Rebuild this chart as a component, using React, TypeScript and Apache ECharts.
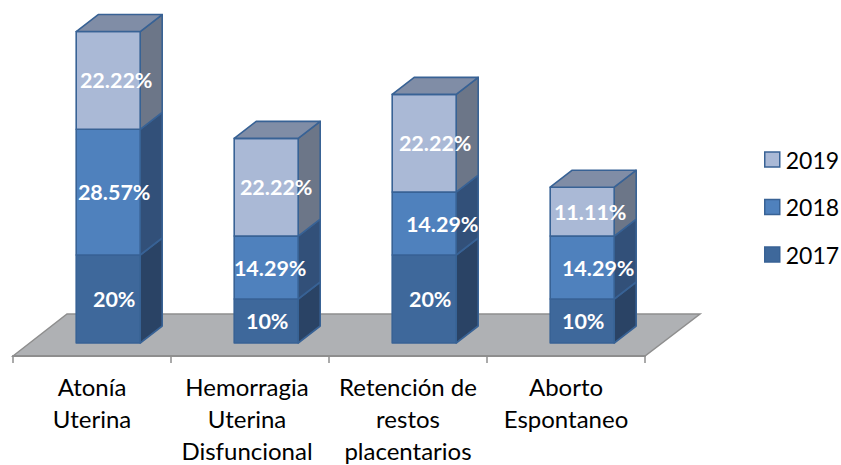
import React, { useEffect, useRef } from "react";
import * as echarts from "echarts";

const categories = ["Atonía\nUterina", "Hemorragia\nUterina\nDisfuncional", "Retención de\nrestos\nplacentarios", "Aborto\nEspontaneo"];
const v2017 = [20, 10, 20, 10];
const v2018 = [28.57, 14.29, 14.29, 14.29];
const v2019 = [22.22, 22.22, 22.22, 11.11];
const seriesNames = ["2017", "2018", "2019"];

const FONT = "Lato";
const DEPTH_X = 22;
const DEPTH_Y = 17;
const EDGE = "#386295";
const fronts = ["#3E689B", "#4F81BD", "#AAB9D6"];
const sides = ["#2A4365", "#325079", "#6C7688"];
const TOP_FACE = "#808DA6";
// label nudges (px from the front-face centre), by series then category
const nudges = [
  [[6, 0], [1, 0], [6, 0], [1, 0]],
  [[6, 0], [4, 0], [18, 0], [16, 0]],
  [[8, 0], [10, 0], [11, 0], [8, 0]],
];

function stackSeries(si: number, own: number[], below: number[][]) {
  const data = own.map((v, i) => {
    const base = below.reduce((s, arr) => s + arr[i], 0);
    return [i, base, base + v, v];
  });
  return {
    type: "custom",
    name: seriesNames[si],
    z: 3,
    clip: false,
    silent: true,
    itemStyle: { color: fronts[si], borderColor: EDGE },
    encode: { x: 0, y: [1, 2] },
    data,
    renderItem: (params: any, api: any) => {
      const idx = api.value(0);
      const base = api.value(1);
      const top = api.value(2);
      const val = api.value(3);
      const band = api.size([1, 0])[0];
      const w = band * 0.405;
      const c0 = api.coord([idx, base]);
      const c1 = api.coord([idx, top]);
      const x0 = c0[0] - band * 0.1;
      const x1 = x0 + w;
      const y0 = c0[1];
      const y1 = c1[1];
      const stroke = { stroke: EDGE, lineWidth: 1.6, lineJoin: "round" };
      const children: any[] = [
        {
          type: "polygon",
          shape: { points: [[x1, y1], [x1 + DEPTH_X, y1 - DEPTH_Y], [x1 + DEPTH_X, y0 - DEPTH_Y], [x1, y0]] },
          style: { fill: sides[si], ...stroke },
        },
        {
          type: "rect",
          shape: { x: x0, y: y1, width: w, height: y0 - y1 },
          style: { fill: fronts[si], ...stroke },
        },
      ];
      if (si === seriesNames.length - 1) {
        children.push({
          type: "polygon",
          shape: { points: [[x0, y1], [x0 + DEPTH_X, y1 - DEPTH_Y], [x1 + DEPTH_X, y1 - DEPTH_Y], [x1, y1]] },
          style: { fill: TOP_FACE, ...stroke },
        });
      }
      const n = nudges[si][idx];
      children.push({
        type: "text",
        z2: 50,
        style: {
          text: `${val}%`,
          x: (x0 + x1) / 2 + n[0],
          y: (y0 + y1) / 2 + n[1],
          fill: "#FFFFFF",
          font: `bold 21.5px ${FONT}`,
          align: "center",
          verticalAlign: "middle",
        },
      });
      return { type: "group", children };
    },
  };
}

const floorSeries = {
  type: "custom",
  name: "floor",
  z: 1,
  clip: false,
  silent: true,
  encode: { x: 0, y: 1 },
  data: [[0, 0]],
  renderItem: (params: any) => {
    const g = params.coordSys;
    const yb = g.y + g.height;
    const front = yb + 13;
    const back = yb - 29;
    return {
      type: "polygon",
      shape: {
        points: [
          [g.x, front],
          [g.x + 54, back],
          [g.x + g.width + 55, back],
          [g.x + g.width, front],
        ],
      },
      style: { fill: "#AFB1B4", stroke: "#8E8E8E", lineWidth: 1.5 },
    };
  },
};

export default function App() {
  const ref = useRef<HTMLDivElement>(null);
  useEffect(() => {
    const chart = echarts.init(ref.current!, null, { renderer: "svg" });
    chart.setOption({
      animation: false,
      backgroundColor: "#FFFFFF",
      grid: { left: 13, right: 196, top: 13, bottom: 122, outerBoundsMode: "none" },
      legend: {
        orient: "vertical",
        left: 764,
        top: 148,
        padding: 0,
        itemWidth: 15,
        itemHeight: 15,
        itemGap: 24.5,
        selectedMode: false,
        icon: "rect",
        data: ["2019", "2018", "2017"].map((name) => ({
          name,
          itemStyle: { color: fronts[seriesNames.indexOf(name)], borderColor: EDGE, borderWidth: 1.5 },
        })),
        textStyle: { fontFamily: FONT, fontSize: 23, color: "#000000", padding: [0, 0, 0, 1] },
      },
      xAxis: {
        type: "category",
        data: categories.map((value, i) => (i === 1 ? { value, textStyle: { padding: [0, 6, 0, 0] } } : value)),
        offset: 13,
        z: 4,
        axisLine: { onZero: false, lineStyle: { color: "#8E8E8E", width: 2 } },
        axisTick: { show: true, length: 7, lineStyle: { color: "#8E8E8E", width: 1.5 } },
        axisLabel: { interval: 0, fontFamily: FONT, fontSize: 24, lineHeight: 32, color: "#000000", margin: 14 },
      },
      yAxis: { type: "value", min: 0, max: 75, show: false },
      series: [floorSeries, stackSeries(0, v2017, []), stackSeries(1, v2018, [v2017]), stackSeries(2, v2019, [v2017, v2018])],
    });
    return () => chart.dispose();
  }, []);
  return <div ref={ref} style={{ position: "fixed", left: 0, top: 0, width: 841, height: 465 }} />;
}
